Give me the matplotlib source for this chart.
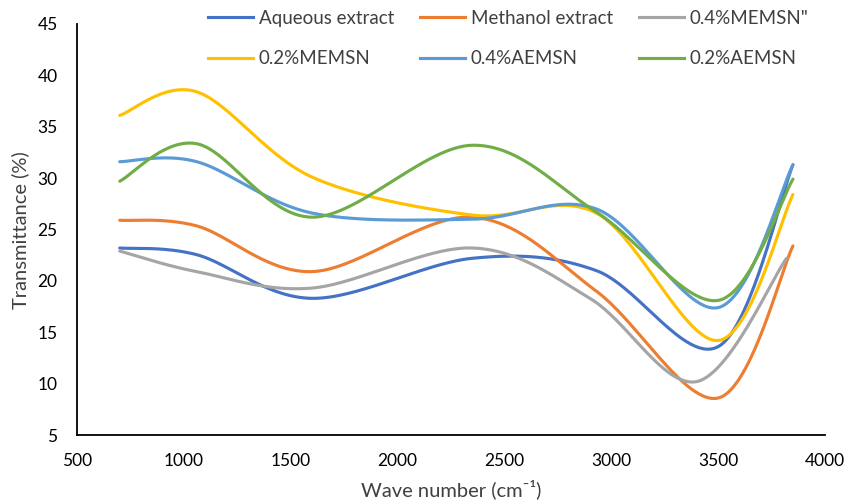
import numpy as np
import matplotlib
matplotlib.use("Agg")
import matplotlib.pyplot as plt
from matplotlib.lines import Line2D

plt.rcParams['font.family'] = ['Lato', 'DejaVu Sans']

# wave numbers of the measured points (cm-1)
wave = [700, 1060, 1600, 2350, 2930, 3500, 3850]
wave_gray = [700, 1060, 1600, 2350, 2900, 3400, 3820]

aqueous = [23.2, 22.55, 18.3, 22.2, 21.0, 13.6, 31.3]
methanol = [25.9, 25.35, 20.9, 26.2, 19.0, 8.6, 23.4]
memsn_04 = [22.9, 20.9, 19.3, 23.2, 18.3, 10.2, 22.2]
memsn_02 = [36.1, 38.4, 30.1, 26.4, 26.6, 14.2, 28.4]
aemsn_04 = [31.6, 31.6, 26.6, 26.0, 27.0, 17.4, 31.3]
aemsn_02 = [29.7, 33.35, 26.2, 33.2, 26.7, 18.1, 29.9]

labels = ["Aqueous extract", "Methanol extract", '0.4%MEMSN"',
          "0.2%MEMSN", "0.4%AEMSN", "0.2%AEMSN"]
colors = ["#4472C4", "#ED7D31", "#A5A5A5", "#FFC000", "#5B9BD5", "#70AD47"]


def smooth(xs, ys, n=60):
    """excel style smoothed line (catmull-rom as cubic bezier)"""
    p = np.column_stack([xs, ys]).astype(float)
    p = np.vstack([p[0], p, p[-1]])
    out = []
    t = np.linspace(0, 1, n)[:, None]
    for i in range(1, len(p) - 2):
        p0, p3 = p[i], p[i + 1]
        c1 = p0 + (p[i + 1] - p[i - 1]) / 6
        c2 = p3 - (p[i + 2] - p[i]) / 6
        seg = ((1 - t) ** 3) * p0 + 3 * ((1 - t) ** 2) * t * c1 + 3 * (1 - t) * t ** 2 * c2 + t ** 3 * p3
        out.append(seg)
    out = np.vstack(out)
    return out[:, 0], out[:, 1]


fig = plt.figure(figsize=(8.44, 5.01), dpi=100)
ax = fig.add_axes([77 / 844, 1 - 435 / 501, 748 / 844, 411 / 501])

series = [(wave, aqueous), (wave, methanol), (wave_gray, memsn_04),
          (wave, memsn_02), (wave, aemsn_04), (wave, aemsn_02)]
handles = []
for (xs, ys), lab, col in zip(series, labels, colors):
    sx, sy = smooth(xs, ys)
    ax.plot(sx, sy, color=col, lw=2.25, solid_capstyle='round')
    handles.append(Line2D([], [], color=col, lw=2.25, label=lab))

ax.set_xlim(500, 4000)
ax.set_ylim(5, 45)
ax.set_xticks(np.arange(500, 4001, 500))
ax.set_yticks(np.arange(5, 46, 5))
for s in ['top', 'right']:
    ax.spines[s].set_visible(False)
for s in ['left', 'bottom']:
    ax.spines[s].set_linewidth(1.3)
    ax.spines[s].set_color('black')
ax.tick_params(length=0, labelsize=12.5, colors='black')
ax.tick_params(axis='x', pad=13)
ax.tick_params(axis='y', pad=14)

fig.text(20 / 844, 1 - 230 / 501, "Transmittance (%)", rotation=90,
         ha='center', va='center', fontsize=14.5, color='#404040')
fig.text(451 / 844, 1 - 489 / 501, "Wave number (cm\u207b\u00b9)",
         ha='center', va='center', fontsize=14.5, color='#404040')

order = [0, 3, 1, 4, 2, 5]
fig.legend([handles[i] for i in order], [labels[i] for i in order],
           ncol=3, loc='upper left', bbox_to_anchor=(208 / 844, 1 - 10 / 501),
           frameon=False, fontsize=13.5, handlelength=2.4, handletextpad=0.3,
           columnspacing=1.4, labelspacing=1.25, borderpad=0, borderaxespad=0,
           labelcolor='#404040')

fig.savefig("out.png", dpi=100)
